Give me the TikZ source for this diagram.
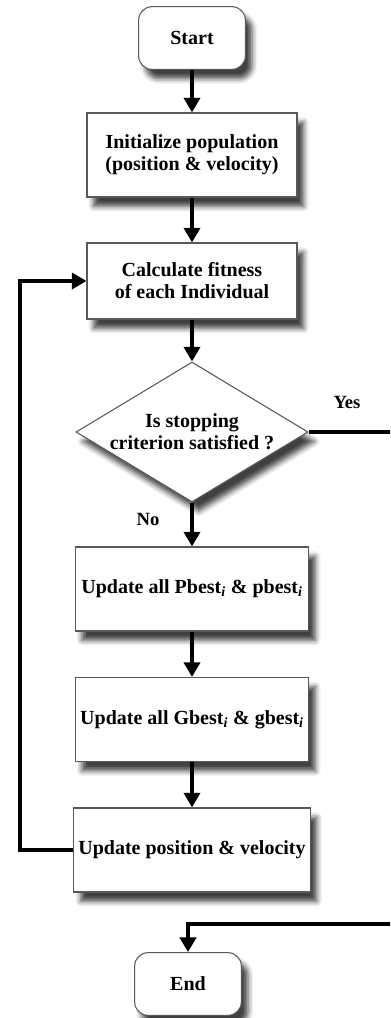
\documentclass[tikz,border=0pt]{standalone}
\usepackage{fontspec}
\setmainfont{Liberation Serif}
\usetikzlibrary{shapes.geometric, arrows.meta, positioning, calc, shadows.blur}

\begin{document}
\begin{tikzpicture}[
    x=0.75pt, y=-0.75pt,
    box/.style={rectangle, draw=black!65, line width=0.8pt, fill=white, minimum width=175pt, minimum height=63pt, align=center, font=\fontsize{15pt}{16.5pt}\selectfont\bfseries, blur shadow={shadow xshift=5pt, shadow yshift=-7pt, shadow opacity=75, shadow blur radius=4pt}},
    terminal/.style={box, rounded corners=10pt, minimum width=80pt, minimum height=47pt},
    decision/.style={box, diamond, aspect=1.66, inner sep=0pt, minimum width=174pt, minimum height=105pt},
    label/.style={font=\fontsize{14pt}{16pt}\selectfont\bfseries},
    arrow/.style={-{Triangle[width=12pt,length=11pt]}, line width=3pt}
]
    \path[use as bounding box] (0,0) rectangle (390,1018);
    \clip (0,0) rectangle (390,1018);

    % Start / End
    \node[terminal] (start) at (192,38) {Start};
    \node[terminal] (finish) at (188,984) {End};

    % Init and fitness
    \node[box, minimum width=157.5pt] (init) at (192,155) {Initialize population\\(position \& velocity)};
    \node[box, minimum width=157.5pt, minimum height=57pt] (fitness) at (192,281) {Calculate fitness\\of each Individual};

    % Decision
    \node[decision] (stopcrit) at (192,432) {Is stopping\\criterion satisfied ?};
    \node[label] (yes) at (347,402) {Yes};
    \node[label] (no) at (148,519) {No};

    % Updates
    \node[box] (pbest) at (192,589) {Update all Pbest\textsubscript{\textit{i}} \& pbest\textsubscript{\textit{i}}};
    \node[box] (gbest) at (192,719.5) {Update all Gbest\textsubscript{\textit{i}} \& gbest\textsubscript{\textit{i}}};
    \node[box] (update) at (192,850) {Update position \& velocity};

    % Turning points
    \coordinate (loopleft) at (20,850);
    \coordinate (yesright) at (400,924);

    % Arrows
    \draw[arrow] (start) -- (init);
    \draw[arrow] (init) -- (fitness);
    \draw[arrow] (fitness) -- (stopcrit);
    \draw[arrow] (stopcrit) -- (pbest);
    \draw[arrow] (pbest) -- (gbest);
    \draw[arrow] (gbest) -- (update);
    \draw[arrow] (update.west) -- (loopleft) |- (fitness.west);
    \draw[arrow] (stopcrit.east) -| (yesright) -| (finish.north);

\end{tikzpicture}
\end{document}
